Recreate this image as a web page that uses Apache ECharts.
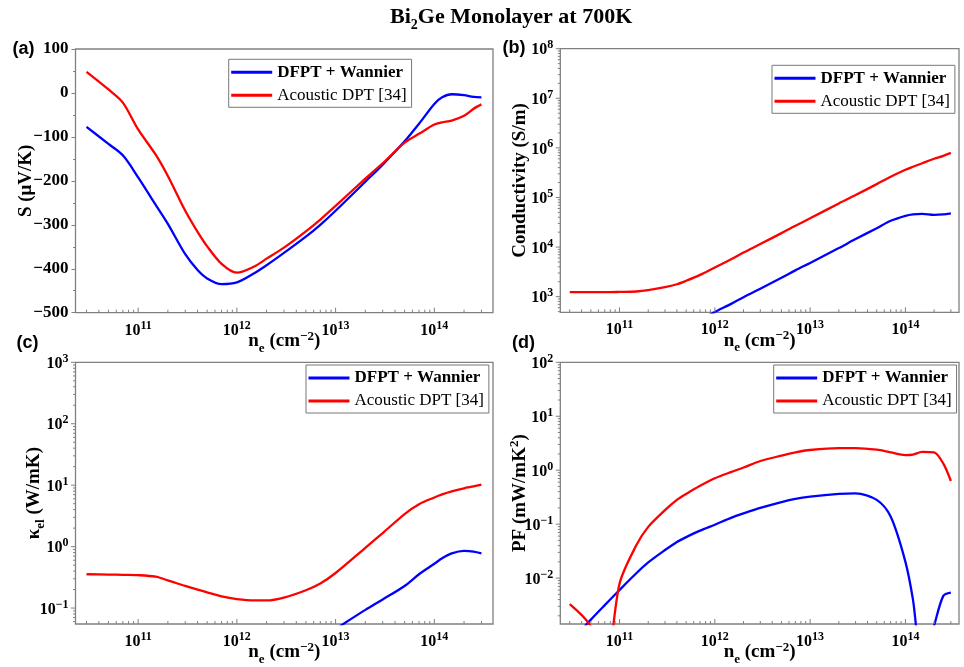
<!DOCTYPE html>
<html>
<head>
<meta charset="utf-8">
<script src="https://cdn.jsdelivr.net/npm/echarts@6/dist/echarts.min.js"></script>
<style>
  html, body { margin: 0; padding: 0; background: #fff; }
  #chart { width: 964px; height: 667px; }
</style>
</head>
<body>
<div id="chart"></div>
<script>
// Electron concentration grid (cm^-2), shared by every panel
const density = [3e10, 5e10, 7e10, 1e11, 1.5e11, 2e11, 3e11, 4e11, 5e11, 7e11,
  1e12, 1.5e12, 2e12, 3e12, 5e12, 7e12, 1e13, 2e13, 3e13, 5e13, 7e13,
  1e14, 1.2e14, 1.5e14, 2e14, 2.5e14, 3e14];

// (a) Seebeck coefficient, uV/K
const seebeckDFPT = [-77, -116, -142, -192, -254, -298, -367, -403, -422, -435,
  -431, -410, -392, -364, -327, -300, -268, -202, -163, -110, -70,
  -25, -10, -3, -5, -9, -10];
const seebeckDPT = [48, 8, -22, -83, -140, -189, -268, -316, -349, -389,
  -409, -395, -377, -352, -315, -288, -257, -195, -160, -113, -93,
  -72, -67, -63, -52, -36, -26];

// (b) electrical conductivity, S/m
const condDFPT = [null, null, null, null, null, null, null, null, null, 339,
  490, 724, 977, 1450, 2400, 3390, 4790, 9550, 14500, 24000, 33900,
  42700, 45700, 46800, 44700, 45700, 47900];
const condDPT = [1230, 1230, 1230, 1245, 1270, 1350, 1550, 1780, 2090, 2750,
  3890, 5750, 7760, 11500, 19100, 26900, 38000, 75900, 112000, 186000, 263000,
  363000, 417000, 490000, 603000, 692000, 794000];

// (c) electronic thermal conductivity, W/mK
const kappaDFPT = [null, null, null, null, null, null, null, null, null, null,
  null, null, null, null, null, 0.0316, 0.0457, 0.0933, 0.138, 0.229, 0.355,
  0.525, 0.646, 0.776, 0.851, 0.832, 0.776];
const kappaDPT = [0.355, 0.351, 0.347, 0.343, 0.324, 0.282, 0.229, 0.200, 0.180, 0.155,
  0.140, 0.133, 0.133, 0.148, 0.195, 0.251, 0.372, 0.955, 1.66, 3.39, 4.90,
  6.31, 7.08, 7.94, 8.91, 9.55, 10.2];

// (d) power factor, mW/mK^2
const pfDFPT = [0.000631, 0.0017, 0.00316, 0.00603, 0.0123, 0.0195, 0.0331, 0.0468, 0.0575, 0.0759,
  0.0977, 0.132, 0.158, 0.200, 0.257, 0.295, 0.324, 0.363, 0.372, 0.282, 0.138,
  0.0200, 0.00398, 0.000251, 0.00132, 0.00468, 0.00537];
const pfDPT = [0.00331, 0.00126, 0.000158, 0.0079, 0.0407, 0.0891, 0.182, 0.282, 0.363, 0.513,
  0.708, 0.933, 1.12, 1.48, 1.86, 2.14, 2.37, 2.57, 2.57, 2.40, 2.14,
  1.91, 1.95, 2.19, 2.14, 1.32, 0.631];

const NAME_DFPT = 'DFPT + Wannier';
const NAME_DPT = 'Acoustic DPT [34]';
const panelLetters = ['(a)', '(b)', '(c)', '(d)'];

const BLUE = '#0000ff';
const RED = '#ff0000';
const FRAME = '#808080';
const SERIF = "'Liberation Serif', 'Times New Roman', serif";
const SANS = "'Liberation Sans', Arial, sans-serif";

function pairs(vals) {
  return density.map((n, i) => [n, vals[i]]).filter(p => p[1] != null);
}

// decade labels 10^n as rich text
const powRich = {
  b: { fontFamily: SERIF, fontWeight: 'bold', fontSize: 16, color: '#000', verticalAlign: 'bottom' },
  s: { fontFamily: SERIF, fontWeight: 'bold', fontSize: 12, color: '#000', verticalAlign: 'bottom', padding: [0, 0, 7, 0] }
};
function powLabel(v) {
  const e = Math.log10(v);
  const r = Math.round(e);
  if (Math.abs(e - r) > 1e-6) return '';
  return '{b|10}{s|' + (r < 0 ? '\u2212' + (-r) : r) + '}';
}

const nameRich = {
  b: { fontFamily: SERIF, fontWeight: 'bold', fontSize: 19, color: '#000', verticalAlign: 'bottom', padding: [0, 0, 4, 0] },
  sub: { fontFamily: SERIF, fontWeight: 'bold', fontSize: 13, color: '#000', verticalAlign: 'bottom' },
  sup: { fontFamily: SERIF, fontWeight: 'bold', fontSize: 13, color: '#000', verticalAlign: 'bottom', padding: [0, 0, 12, 0] }
};
const xName = '{b|n}{sub|e}{b| (cm}{sup|\u22122}{b|)}';

// panel layout and axis ranges
const panels = [
  { grid: { left: 75.5, top: 49, width: 417.5, height: 263.7 }, x: [2.32e10, 3.93e14],
    y: { type: 'value', min: -500, max: 100, interval: 100 },
    yName: '{b|S (\u03bcV/K)}', yGap: 36, blue: seebeckDFPT, red: seebeckDPT,
    legend: [228.7, 59.3], letter: [12.5, 49] },
  { grid: { left: 560.3, top: 48.7, width: 398.7, height: 263.6 }, x: [2.39e10, 3.65e14],
    y: { type: 'log', min: 484, max: 1e8 },
    yName: '{b|Conductivity (S/m)}', yGap: 27, blue: condDFPT, red: condDPT,
    legend: [772, 65.3], letter: [502.5, 48] },
  { grid: { left: 75.5, top: 362.3, width: 417.5, height: 263 }, x: [2.32e10, 3.93e14],
    y: { type: 'log', min: 0.055, max: 1000 },
    yName: '{b|\u03ba}{sub|el}{b| (W/mK)}', yGap: 28, blue: kappaDFPT, red: kappaDPT,
    legend: [306, 365], letter: [16.5, 342.7] },
  { grid: { left: 560.3, top: 362.3, width: 398.7, height: 263 }, x: [2.39e10, 3.65e14],
    y: { type: 'log', min: 0.00141, max: 100 },
    yName: '{b|PF (mW/mK}{sup|2}{b|)}', yGap: 27, blue: pfDFPT, red: pfDPT,
    legend: [773.7, 365], letter: [512, 342.7] }
];

// tick positions 1..9 x 10^n inside [lo, hi]; flag 1 marks a decade
function logTicks(lo, hi) {
  const out = [];
  for (let e = Math.floor(Math.log10(lo)); e <= Math.ceil(Math.log10(hi)); e++) {
    for (let k = 1; k <= 9; k++) {
      const v = k * Math.pow(10, e);
      if (v >= lo * 0.99999 && v <= hi * 1.00001) out.push([v, k === 1 ? 1 : 0]);
    }
  }
  return out;
}

function renderTick(params, api) {
  const cs = params.coordSys;
  const p = api.coord([api.value(0), api.value(1)]);
  const major = api.value(3) === 1;
  let shape;
  if (api.value(2) === 0) {
    const len = major ? 5 : 3;
    const y0 = cs.y + cs.height;
    shape = { x1: p[0], y1: y0, x2: p[0], y2: y0 - len };
  } else {
    const len = major ? 4.5 : 2.5;
    shape = { x1: cs.x, y1: p[1], x2: cs.x - len, y2: p[1] };
  }
  return { type: 'line', shape: shape, style: { stroke: FRAME, lineWidth: 1 } };
}

const grids = [], xAxes = [], yAxes = [], series = [], legends = [], graphics = [];

panels.forEach((pn, i) => {
  grids.push(Object.assign({ show: true, borderColor: FRAME, borderWidth: 1.3, containLabel: false }, pn.grid));

  xAxes.push({
    type: 'log', logBase: 10, gridIndex: i, min: pn.x[0], max: pn.x[1],
    axisLine: { show: false }, axisTick: { show: false }, splitLine: { show: false },
    axisLabel: { formatter: powLabel, rich: powRich, margin: 7 },
    name: xName, nameLocation: 'middle', nameGap: 17, nameMoveOverlap: false,
    nameTextStyle: { rich: nameRich }
  });

  const yLabel = pn.y.type === 'log'
    ? { formatter: powLabel, rich: powRich, margin: 7 }
    : { formatter: v => (v < 0 ? '\u2212' + Math.abs(v) : String(v)),
        fontFamily: SERIF, fontWeight: 'bold', fontSize: 17, color: '#000', margin: 7 };
  const yAxis = Object.assign({
    gridIndex: i,
    axisLine: { show: false }, splitLine: { show: false },
    axisLabel: yLabel,
    name: pn.yName, nameLocation: 'middle', nameRotate: 90, nameGap: pn.yGap,
    nameMoveOverlap: false, nameTextStyle: { rich: nameRich }
  }, pn.y);
  if (pn.y.type === 'log') {
    yAxis.logBase = 10;
    yAxis.axisTick = { show: false };
  } else {
    yAxis.axisTick = { show: true, inside: false, length: 4, lineStyle: { color: FRAME, width: 1 } };
    yAxis.minorTick = { show: true, splitNumber: 2, length: 2.5, lineStyle: { color: FRAME, width: 1 } };
  }
  yAxes.push(yAxis);

  // tick marks drawn through the axes' own scales
  const yLo = pn.y.min;
  const tickData = logTicks(pn.x[0], pn.x[1]).map(t => [t[0], yLo, 0, t[1]]);
  if (pn.y.type === 'log') {
    logTicks(pn.y.min, pn.y.max).forEach(t => tickData.push([pn.x[0], t[0], 1, t[1]]));
  }
  series.push({
    type: 'custom', name: 'ticks' + i, xAxisIndex: i, yAxisIndex: i,
    data: tickData, renderItem: renderTick, silent: true, clip: false, z: 5
  });

  const lineBase = { xAxisIndex: i, yAxisIndex: i, type: 'line', smooth: 0.3,
    showSymbol: false, clip: true, z: 3 };
  series.push(Object.assign({}, lineBase, {
    name: NAME_DFPT, data: pairs(pn.blue),
    lineStyle: { color: BLUE, width: 2.3 }, itemStyle: { color: BLUE }
  }));
  series.push(Object.assign({}, lineBase, {
    name: NAME_DPT, data: pairs(pn.red),
    lineStyle: { color: RED, width: 2.3 }, itemStyle: { color: RED }
  }));

  legends.push({
    orient: 'vertical', left: pn.legend[0], top: pn.legend[1],
    icon: 'rect', itemWidth: 41, itemHeight: 3, itemGap: 3,
    padding: [3, 5, 2, 2.5], borderColor: '#777', borderWidth: 1, borderRadius: 0,
    backgroundColor: '#fff', selectedMode: false,
    textStyle: { fontFamily: SERIF, fontSize: 17, color: '#000', lineHeight: 20 },
    data: [{ name: NAME_DFPT, textStyle: { fontWeight: 'bold' } }, { name: NAME_DPT }]
  });

  graphics.push({
    type: 'text', x: pn.letter[0], y: pn.letter[1], silent: true,
    style: { text: panelLetters[i], font: 'bold 18px ' + SANS, fill: '#000', verticalAlign: 'middle' }
  });
});

const chart = echarts.init(document.getElementById('chart'), null, { renderer: 'canvas' });
chart.setOption({
  animation: false,
  backgroundColor: '#fff',
  title: {
    text: '{b|Bi}{s|2}{b|Ge Monolayer at 700K}', left: 390, top: 6, padding: 0,
    textStyle: { rich: {
      b: { fontFamily: SERIF, fontWeight: 'bold', fontSize: 22, color: '#000', verticalAlign: 'bottom', padding: [0, 0, 4, 0] },
      s: { fontFamily: SERIF, fontWeight: 'bold', fontSize: 14, color: '#000', verticalAlign: 'bottom' }
    } }
  },
  grid: grids,
  xAxis: xAxes,
  yAxis: yAxes,
  legend: legends,
  graphic: graphics,
  series: series
});
</script>
</body>
</html>
